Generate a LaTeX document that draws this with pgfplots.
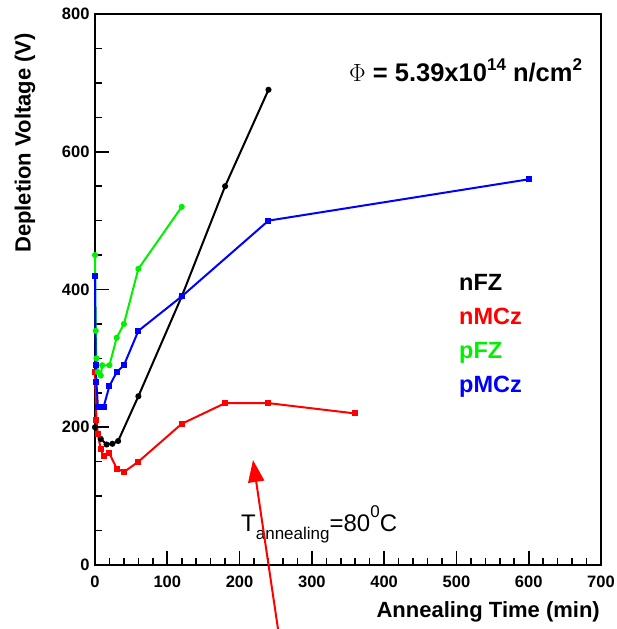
\documentclass[border=0pt]{standalone}
\usepackage{fontspec}
\setmainfont{Liberation Sans}
\usepackage{pgfplots}
\pgfplotsset{compat=1.18}
\usetikzlibrary{arrows.meta}
\definecolor{myred}{RGB}{255,0,0}
\definecolor{mygreen}{RGB}{0,240,0}
\definecolor{myblue}{RGB}{0,0,255}
\begin{document}
\begin{tikzpicture}[x=1pt,y=1pt]
\begin{axis}[at={(95pt,64pt)},anchor=south west,scale only axis,
  width=506pt,height=551pt,
  xmin=0,xmax=700,ymin=0,ymax=800,
  xtick={0,100,...,700},ytick={0,200,...,800},
  minor x tick num=4,minor y tick num=3,
  tick align=inside,xtick pos=left,ytick pos=left,
  major tick length=14pt,minor tick length=7pt,
  axis line style={line width=2.5pt},
  every tick/.style={black,line width=1.6pt},
  ticklabel style={font=\fontsize{16.5}{16.5}\selectfont\bfseries},
  xticklabel style={yshift=-7pt},
  yticklabel style={xshift=-2pt},
  /pgf/number format/assume math mode=true,
  clip=false]
\addplot[black,line width=2pt,mark=*,mark size=2pt] coordinates {
(0,200)(8,183)(16,175)(24,176)(32,180)(60,245)(120,390)(180,550)(240,690)};
\addplot[myred,line width=2pt,mark=square*,mark size=2pt] coordinates {
(0,280)(2,210)(4,190)(8,168)(12,158)(20,162)(30,140)(40,135)(60,150)(120,205)(180,235)(240,235)(360,220)};
\addplot[mygreen,line width=2pt,mark=*,mark size=2pt] coordinates {
(0,450)(1,340)(2,300)(4,280)(8,275)(10,290)(20,290)(30,330)(40,350)(60,430)(120,520)};
\addplot[myblue,line width=2pt,mark=square*,mark size=2pt] coordinates {
(0,420)(1,290)(2,265)(4,230)(12,230)(20,260)(30,280)(40,290)(60,340)(120,390)(240,500)(600,560)};
\end{axis}
\node[rotate=90,font=\fontsize{22}{22}\selectfont\bfseries] at (25,486) {Depletion Voltage (V)};
\node[anchor=base east,inner sep=0pt,font=\fontsize{22}{22}\selectfont\bfseries] at (600,12) {Annealing Time (min)};
\node[anchor=base west,inner sep=0pt,font=\fontsize{25.5}{25.5}\selectfont\bfseries] at (349,547) {$\Phi$ = 5.39x10\raisebox{0.45em}{\fontsize{17}{17}\selectfont 14} n/cm\raisebox{0.45em}{\fontsize{17}{17}\selectfont 2}};
\node[anchor=base west,inner sep=0pt,font=\fontsize{23.5}{23.5}\selectfont\bfseries] at (459,338) {nFZ};
\node[anchor=base west,inner sep=0pt,font=\fontsize{23.5}{23.5}\selectfont\bfseries,text=myred] at (459,304) {nMCz};
\node[anchor=base west,inner sep=0pt,font=\fontsize{23.5}{23.5}\selectfont\bfseries,text=mygreen] at (459,270) {pFZ};
\node[anchor=base west,inner sep=0pt,font=\fontsize{23.5}{23.5}\selectfont\bfseries,text=myblue] at (459,236) {pMCz};
\node[anchor=base west,inner sep=0pt,font=\fontsize{24}{24}\selectfont] at (241,97) {T\raisebox{-0.3em}{\fontsize{17}{17}\selectfont annealing}=80\raisebox{0.6em}{\fontsize{17}{17}\selectfont 0}C};
\draw[myred,line width=2pt,-{Triangle[length=22pt,width=16pt]}] (278,0) -- (253,169);
\pgfresetboundingbox
\path (0,0) rectangle (617,629);
\end{tikzpicture}
\end{document}
